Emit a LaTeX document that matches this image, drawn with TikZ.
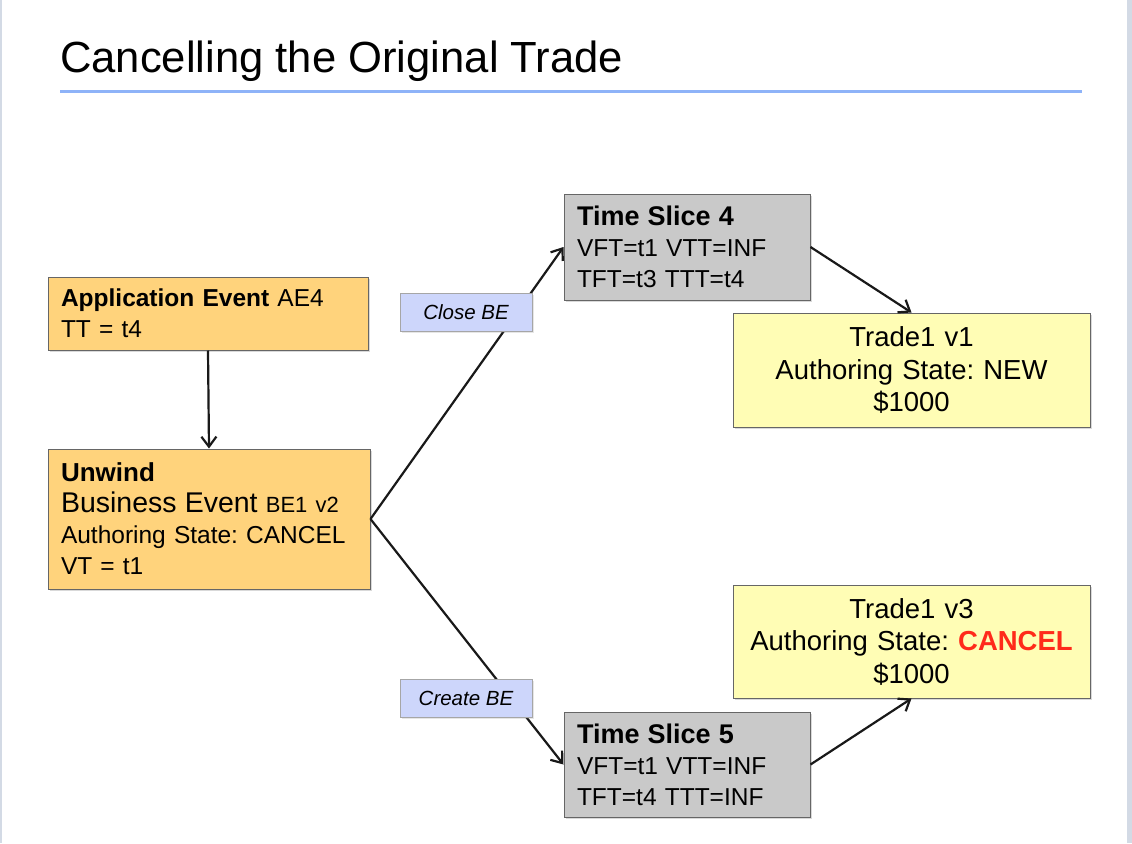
\documentclass[tikz,border=0pt]{standalone}
\usepackage{fontspec}
\setmainfont{Liberation Sans}
\usetikzlibrary{arrows.meta,shadows}
\frenchspacing
\definecolor{evorange}{HTML}{FFD37C}
\definecolor{slicegray}{HTML}{C9C9C9}
\definecolor{tradeyellow}{HTML}{FFFDB5}
\definecolor{labelblue}{HTML}{CDD6FB}
\definecolor{ruleblue}{HTML}{8EB3F8}
\definecolor{edgeblue}{HTML}{D3DAE5}
\definecolor{cancelred}{HTML}{FF2A1A}
\begin{document}
\begin{tikzpicture}[x=1pt, y=-1pt,
    box/.style={draw=black!60, line width=1pt, inner xsep=13pt, inner ysep=4pt, align=left,
        font=\fontsize{24.5}{31}\selectfont,
        drop shadow={shadow xshift=2pt, shadow yshift=-2pt, opacity=.3}},
    tradebox/.style={box, fill=tradeyellow, text width=331pt, minimum height=114pt, align=center,
        font=\fontsize{27.5}{32.5}\selectfont},
    tag/.style={draw=black!35, line width=.8pt, fill=labelblue, minimum width=132pt, minimum height=38pt,
        inner sep=0pt, font=\fontsize{20.5}{24}\selectfont\itshape,
        drop shadow={shadow xshift=1.5pt, shadow yshift=-1.5pt, opacity=.2}},
    arrow/.style={-{Straight Barb[length=10pt, width=15pt]}, line width=2.2pt, black!90}
]
    \useasboundingbox (0,0) rectangle (1132,843);
    % slide frame and title
    \fill[edgeblue] (0,0) rectangle (2,843);
    \fill[edgeblue] (1127,0) rectangle (1132,843);
    \node[anchor=base west, inner sep=0pt, font=\fontsize{43.6}{50}\selectfont] (title) at (60,72) {Cancelling the Original Trade};
    \draw[ruleblue, line width=3pt] (60,91.5) -- (1082,91.5);

    \node[box, fill=evorange, text width=294pt, minimum height=73pt] (appevent) at (208,313.5)
        {\textbf{Application Event} AE4\\TT = t4};
    \node[box, fill=evorange, text width=296pt, minimum height=140pt] (unwind) at (209,519)
        {{\fontsize{26}{31}\selectfont\bfseries Unwind}\\
         {\fontsize{28.5}{31}\selectfont Business Event} {\fontsize{22}{31}\selectfont BE1 v2}\\
         Authoring State: CANCEL\\VT = t1};
    \node[box, fill=slicegray, text width=220pt, minimum height=106pt] (slice4) at (687,247)
        {{\fontsize{27}{31}\selectfont\bfseries Time Slice 4}\\VFT=t1 VTT=INF\\TFT=t3 TTT=t4};
    \node[box, fill=slicegray, text width=220pt, minimum height=105pt] (slice5) at (687,764.5)
        {{\fontsize{27}{31}\selectfont\bfseries Time Slice 5}\\VFT=t1 VTT=INF\\TFT=t4 TTT=INF};
    \node[tradebox] (tradev1) at (911.5,370) {Trade1 v1\\Authoring State: NEW\\\$1000};
    \node[tradebox, minimum height=113pt] (tradev3) at (911.5,641.5)
        {Trade1 v3\\Authoring State: \textcolor{cancelred}{\textbf{CANCEL}}\\\$1000};

    \draw[arrow] (appevent.south) -- (unwind.north);
    \draw[arrow] (unwind.east) -- (slice4.west);
    \draw[arrow] (unwind.east) -- (slice5.west);
    \draw[arrow] (slice4.east) -- (tradev1.north);
    \draw[arrow] (slice5.east) -- (tradev3.south);

    % labels sit on top of the connectors
    \node[tag] (closebe) at (466,312) {Close BE};
    \node[tag] (createbe) at (466,698) {Create BE};
\end{tikzpicture}
\end{document}
